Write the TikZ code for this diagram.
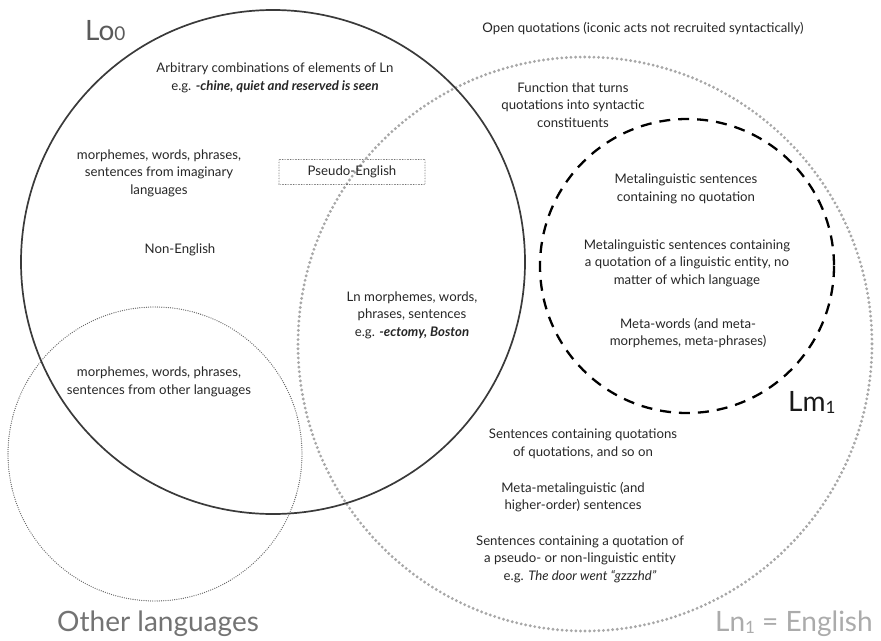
\documentclass[tikz,border=0pt]{standalone}
\usepackage{fontspec}
\setmainfont{Lato}
\definecolor{inkdark}{HTML}{262626}
\definecolor{rimsolid}{HTML}{3A3A3A}
\definecolor{rimother}{HTML}{666666}
\definecolor{rimenglish}{HTML}{A8A8A8}
\definecolor{labelgrey}{HTML}{5A5A5A}
\definecolor{labellight}{HTML}{ABABAB}
\begin{document}
\begin{tikzpicture}[x=1pt,y=-1pt,
  body/.style={align=center, inner sep=0pt, text=inkdark,
    font=\fontsize{13.2}{17.5}\selectfont},
  biglabel/.style={inner sep=0pt, anchor=base west,
    font=\fontsize{28}{30}\selectfont},
  setsolid/.style={draw=rimsolid, line width=1.7pt},
  setother/.style={draw=rimother, line width=1.3pt, line cap=round,
    dash pattern=on 0pt off 2.2pt},
  setenglish/.style={draw=rimenglish, line width=3.2pt, line cap=round,
    dash pattern=on 0pt off 4.6pt},
  setmeta/.style={draw=black, line width=2.3pt, dash pattern=on 11pt off 8pt},
  pseudobox/.style={draw=inkdark, line width=0.7pt, line cap=round,
    dash pattern=on 0pt off 1.6pt, minimum width=146pt, minimum height=25pt,
    inner sep=0pt, text=inkdark, font=\fontsize{13.2}{15}\selectfont}
]
\path[use as bounding box] (0,0) rectangle (881,640);

% the four sets
\draw[setenglish] (585,344) circle[radius=287];
\draw[setother]   (155,454) circle[radius=147];
\draw[setsolid]   (273,262) circle[radius=252];
\draw[setmeta]    (687,266) circle[radius=147];

% set names
\node[biglabel, text=labelgrey] (lo) at (85,40)
  {Lo{\fontsize{19}{19}\selectfont 0}};
\node[biglabel, text=black!90] (lm) at (788,411)
  {Lm\raisebox{-2pt}{\fontsize{17}{17}\selectfont 1}};
\node[biglabel, text=labelgrey!85] (other) at (57,631) {Other languages};
\node[biglabel, text=labellight] (english) at (715,631)
  {Ln\raisebox{-2pt}{\fontsize{17}{17}\selectfont 1} = English};

% regions
\node[body] (open) at (643,29)
  {Open quotations (iconic acts not recruited syntactically)};
\node[body] (arb) at (275,78)
  {Arbitrary combinations of elements of Ln\\
   e.g. {\bfseries\itshape -chine, quiet and reserved is seen}};
\node[body] (imag) at (159,173)
  {morphemes, words, phrases,\\ sentences from imaginary\\ languages};
\node[pseudobox] (pseudo) at (352,172) {Pseudo-English};
\node[body] (nonen) at (180,250) {Non-English};
\node[body] (lnmorph) at (412,315)
  {Ln morphemes, words,\\ phrases, sentences\\
   e.g. {\bfseries\itshape -ectomy, Boston}};
\node[body] (otherl) at (159,382)
  {morphemes, words, phrases,\\ sentences from other languages};
\node[body] (func) at (573,105)
  {Function that turns\\ quotations into syntactic\\ constituents};
\node[body] (metano) at (686,189)
  {Metalinguistic sentences\\ containing no quotation};
\node[body] (metaq) at (687,263)
  {Metalinguistic sentences containing\\ a quotation of a linguistic entity, no\\
   matter of which language};
\node[body] (metaw) at (688,333)
  {Meta-words (and meta-\\ morphemes, meta-phrases)};
\node[body] (qq) at (583,444)
  {Sentences containing quotations\\ of quotations, and so on};
\node[body] (mm) at (573,497)
  {Meta-metalinguistic (and\\ higher-order) sentences};
\node[body] (pq) at (580,559)
  {Sentences containing a quotation of\\ a pseudo- or non-linguistic entity\\
   e.g. {\itshape The door went “gzzzhd”}};
\end{tikzpicture}
\end{document}
